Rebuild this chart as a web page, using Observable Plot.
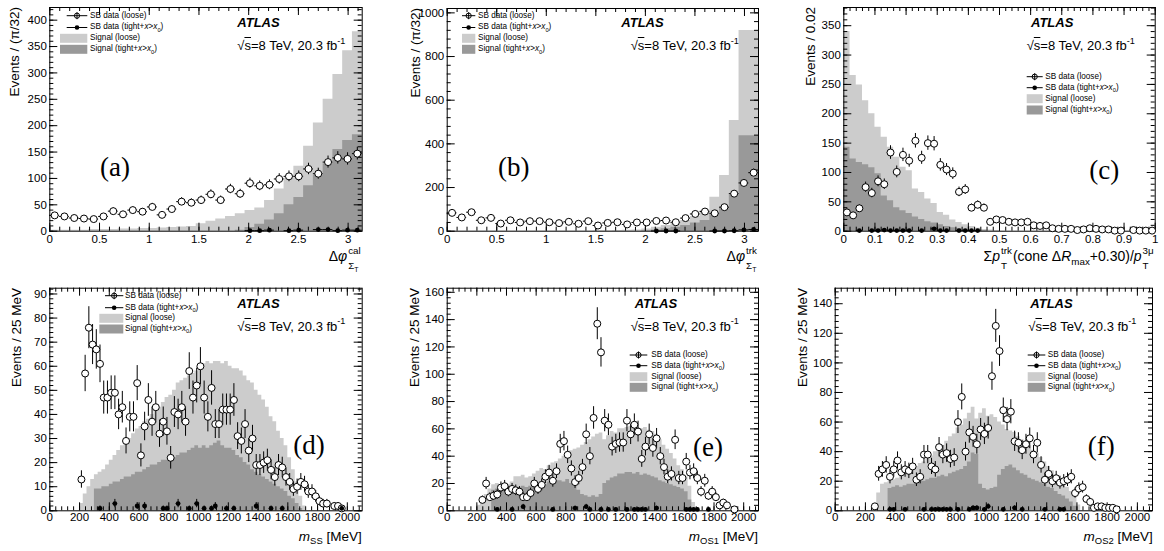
<!DOCTYPE html>
<html><head><meta charset="utf-8">
<script src="https://cdn.jsdelivr.net/npm/d3@7"></script>
<script src="https://cdn.jsdelivr.net/npm/@observablehq/plot@0.6"></script>
<style>
body{margin:0;background:#fff;}
#root{position:relative;width:1164px;height:551px;overflow:hidden;font-family:'Liberation Sans',Arial,sans-serif;color:#000;background:#fff}
.cell{position:absolute}
.t{position:absolute;white-space:nowrap;line-height:1;font-family:'Liberation Sans',Arial,sans-serif}
.stk{position:relative;display:inline-block;height:0.5em;width:0;margin-left:1px}
.stk>span{position:absolute;left:0;font-size:70%;line-height:1;white-space:nowrap}
.stk>.su{bottom:0.5em}
.stk>.sb{top:0.72em}
.sub{font-size:70%;position:relative;top:0.4em;line-height:1}
.sup{font-size:70%;position:relative;top:-0.75em;line-height:1}
.ytitle{transform-origin:0 0;transform:rotate(-90deg) translate(-100%,-50%)}
</style></head><body><div id="root"></div>
<script>
// ---------------- colours ----------------
const LIGHT = "#cccccc", DARK = "#999999";

// ---------------- tick labels ----------------
const phiTicks = [0, 0.5, 1, 1.5, 2, 2.5, 3];
const aYTicks = [0, 50, 100, 150, 200, 250, 300, 350, 400];
const bYTicks = [0, 200, 400, 600, 800, 1000];
const cXTicks = [0, 0.1, 0.2, 0.3, 0.4, 0.5, 0.6, 0.7, 0.8, 0.9, 1];
const cYTicks = [0, 50, 100, 150, 200, 250, 300, 350];
const mXTicks = [0, 200, 400, 600, 800, 1000, 1200, 1400, 1600, 1800, 2000];
const dYTicks = [0, 10, 20, 30, 40, 50, 60, 70, 80, 90];
const eYTicks = [0, 20, 40, 60, 80, 100, 120, 140, 160];
const fYTicks = [0, 20, 40, 60, 80, 100, 120, 140];

// ---------------- (a) dphi cal, 32 bins of pi/32 ----------------
const aLoose = [30,28,25,24,23,28,38,32,40,37, 46,31,42,56,54,59,70,59,80,71, 91,86,88,99,104,104,118,109,131,139, 137,147];
const aTight = [0,0,0,0,0,0,0,0,0,0, 0,0,0,0,0,0,0,0,0,0, 1,1,2,0,1,2,0,3,3,1, 2,2];
const aSigLoose = [2,2,2,2,3,3,3,4,4,5, 5,6,7,8,9,14,19,23,28,33, 39,44,58,80,101,123,161,205,250,297, 342,378];
const aSigTight = [0,0,0,0,0,0,0,0,0,0, 0,0,0,0,0,0,0,0,0,2, 7,13,21,33,50,64,86,106,128,155, 172,183];

// ---------------- (b) dphi trk ----------------
const bLoose = [84,63,87,50,61,35,50,40,46,46, 41,37,43,34,46,26,38,41,31,40, 40,47,49,41,60,79,90,82,110,172, 221,268];
const bTight = [0,0,0,0,0,0,0,0,0,0, 0,0,0,0,0,0,0,0,0,0, 0,1,1,1,0,0,0,1,1,2, 6,8];
const bSigLoose = [1,1,1,1,1,1,1,1,1,1, 1,1,1,1,1,2,2,3,4,6, 10,18,26,37,49,67,95,156,255,507, 919,919];
const bSigTight = [0,0,0,0,0,0,0,0,0,0, 0,0,0,0,0,0,0,0,0,0, 2,6,11,18,26,37,49,80,110,166, 437,437];

// ---------------- (c) track isolation, bins of 0.02 ----------------
const cLoose = [32,27,39,75,65,85,80,134,101,130, 120,154,125,150,149,113,105,98,67,71, 40,45,40,16,20,19,16,15,15,16, 10,9,10,5,4,4,4,2,3,5, 4,3,3,1,1,0,2,1,1,1];
const cTight = [0,0,1,0,1,1,2,1,1,1, 1,0,1,0,4,1,1,0,1,1, 1,1,0,0,0,0,0,0,0,0, 0,0,0,0,0,0,0,0,0,0, 0,0,0,0,0,0,0,0,0,0];
const cSigLoose = [340,265,249,222,200,177,160,143,126,109, 103,72,66,55,47,32,27,19,15,11, 8,5,3,2,1];
const cSigTight = [143,123,117,113,108,98,60,52,40,35, 30,24,20,16,14,11,8,6,4,3, 2,1,1];

// ---------------- (d) m_SS, 25 MeV bins ----------------
const dLooseStart = 200;
const dLoose = [13,57,76,69,67,61,47,47,49,49, 40,43,29,39,39,53,23,35,46,37, 43,32,37,33,22,41,40,43,37,58, 47,52,60,47,39,51,36,36,42,42, 42,46,31,29,36,25,30,19,19,20, 21,17,14,19,18,14,12,9,10,12, 11,8,8,6,4,3,3,0,2,2, 1];
const dTightX = [337.5,437.5,587.5,637.5,762.5,787.5,862.5,937.5,987.5,1037.5,1087.5,1112.5,1187.5,1237.5,1387.5,1487.5,1562.5,1962.5];
const dTightY = [1,3,2,2,1,1,3,1,3,1,1,2,1,1,2,1,1,1];
const dSigLooseStart = 200;
const dSigLoose = [3,7,10,13,15,16,17,19,21,23, 25,27,28,30,32,34,35,37,38,40, 42,43,45,47,48,50,53,54,55,56, 57,58,59,61,62,61,62,62,61,62, 60,59,59,58,56,54,53,50,48,46, 43,39,37,33,30,27,22,17,12,6, 2];
const dSigTightStart = 300;
const dSigTight = [9,9,10,10,11,12,12,13,14,14, 15,16,16,17,18,19,19,20,21,21, 22,22,23,24,24,25,26,27,26,27, 26,27,28,29,27,26,26,25,23,22, 20,19,17,16,15,14,13,12,11,10, 9,8,6,5,3,1];

// ---------------- (e) m_OS1 ----------------
const eLooseStart = 225;
const eLoose = [8,20,10,11,12,17,18,14,16,15, 14,10,10,13,20,16,19,25,28,22, 29,49,51,41,31,21,24,32,56,40, 68,137,116,66,63,47,49,50,50,66, 56,63,58,38,47,56,46,53,40,32, 25,27,52,24,24,36,28,29,24,14, 22,11,14,10,4,6,4,0,1];
const eTightX = [337.5,437.5,512.5,712.5,862.5,937.5,962.5,1037.5,1087.5,1137.5,1212.5,1262.5,1287.5,1312.5,1337.5,1412.5,1612.5,1637.5,1662.5,1687.5,1762.5];
const eTightY = [1,1,3,1,2,3,1,1,1,1,1,1,1,1,1,2,1,1,1,1,1];
const eSigLooseStart = 200;
const eSigLoose = [4,8,12,16,19,20,18,20,19,21, 25,25,26,24,25,27,29,31,30,33, 35,36,38,40,42,44,45,46,48,50, 52,54,56,57,52,55,58,57,60,60, 61,62,62,61,60,61,59,58,56,52, 48,45,42,38,33,30,25,18,6];
const eSigTightStart = 300;
const eSigTight = [15,16,16,15,16,17,16,17,18,17, 18,19,19,20,19,21,21,22,22,21, 23,20,18,15,12,11,10,11,10,12, 20,22,24,25,27,27,28,28,27,28, 26,27,26,25,24,22,21,20,19,18, 17,16,14,8];

// ---------------- (f) m_OS2 ----------------
const fLooseStart = 250;
const fLoose = [3,25,28,31,23,28,34,26,28,27, 30,21,23,38,38,30,28,43,38,39, 35,36,60,77,40,53,50,45,55,52, 56,91,125,108,68,62,67,47,46,41, 45,49,38,46,31,21,25,20,22,19, 20,21,23,12,15,16,8,6,2,3, 3,2,2,2,1];
const fTightX = [362.5,387.5,462.5,587.5,637.5,662.5,687.5,712.5,737.5,762.5,812.5,887.5,912.5,937.5,987.5,1012.5,1112.5,1187.5,1237.5,1387.5,1487.5,1512.5];
const fTightY = [1,1,1,1,1,1,1,1,1,1,1,1,2,2,1,3,1,2,1,1,1,1];
const fSigLooseStart = 275;
const fSigLoose = [12,18,19,20,21,22,24,26,27,28, 30,32,33,35,37,40,42,44,47,50, 52,56,58,62,66,70,62,66,69,64, 65,63,60,58,55,54,53,50,48,46, 44,41,39,36,33,30,27,24,21,19, 16,13,10,4];
const fSigTightStart = 350;
const fSigTight = [15,16,17,16,17,18,18,19,20,20, 21,22,22,23,24,23,25,26,27,28, 30,33,39,38,18,15,14,15,16,24, 28,30,31,29,27,25,24,22,21,20, 19,18,16,15,13,11,10,8,6,3];

// ---------------- helpers ----------------
const W = 388;
const binsFrom = (start, w, vals) => vals.map((v, i) => ({lo: start + i*w, hi: start + (i+1)*w, c: start + (i+0.5)*w, v}));
const pairs = (xs, ys, w) => xs.map((c, i) => ({lo: c - w/2, hi: c + w/2, c, v: ys[i]}));
const steps = (start, w, vals) => vals.map((v, i) => ({x: start + i*w, y: v})).concat([{x: start + vals.length*w, y: vals[vals.length-1]}]);
const err = d => Math.sqrt(d.v);

const phiW = Math.PI / 32;
const panels = [
  {key:"a", left:0, top:0, h:275, mL:49.3, mR:26.3, mT:7, mB:44.3, xDom:[0,Math.PI], yDom:[0,424], xMaj:phiTicks, xMinStep:0.1, yMaj:aYTicks, yMinStep:10, xPad:4,
   loose: binsFrom(0, phiW, aLoose), tight: binsFrom(0, phiW, aTight), sigL: steps(0, phiW, aSigLoose), sigT: steps(0, phiW, aSigTight)},
  {key:"b", left:388, top:0, h:275, mL:58.7, mR:18, mT:8, mB:44.3, xDom:[0,Math.PI], yDom:[0,1020], xMaj:phiTicks, xMinStep:0.1, yMaj:bYTicks, yMinStep:40, xPad:4,
   loose: binsFrom(0, phiW, bLoose), tight: binsFrom(0, phiW, bTight), sigL: steps(0, phiW, bSigLoose), sigT: steps(0, phiW, bSigTight)},
  {key:"c", left:776, top:0, h:275, mL:67.3, mR:9.3, mT:7, mB:44.3, xDom:[0,1], yDom:[0,381], xMaj:cXTicks, xMinStep:0.02, yMaj:cYTicks, yMinStep:10, xPad:4,
   loose: binsFrom(0, 0.02, cLoose), tight: binsFrom(0, 0.02, cTight), sigL: steps(0, 0.02, cSigLoose), sigT: steps(0, 0.02, cSigTight)},
  {key:"d", left:0, top:275, h:276, mL:49.3, mR:26.3, mT:12.7, mB:40.7, xDom:[0,2100], yDom:[0,92.4], xMaj:mXTicks, xMinStep:40, yMaj:dYTicks, yMinStep:2, xPad:2,
   loose: binsFrom(dLooseStart, 25, dLoose), tight: pairs(dTightX, dTightY, 25), sigL: steps(dSigLooseStart, 25, dSigLoose), sigT: steps(dSigTightStart, 25, dSigTight)},
  {key:"e", left:388, top:275, h:276, mL:58.7, mR:18, mT:12.7, mB:40.7, xDom:[0,2100], yDom:[0,163], xMaj:mXTicks, xMinStep:40, yMaj:eYTicks, yMinStep:4, xPad:2,
   loose: binsFrom(eLooseStart, 25, eLoose), tight: pairs(eTightX, eTightY, 25), sigL: steps(eSigLooseStart, 25, eSigLoose), sigT: steps(eSigTightStart, 25, eSigTight)},
  {key:"f", left:776, top:275, h:276, mL:58.7, mR:12, mT:12.7, mB:40.7, xDom:[0,2100], yDom:[0,150.5], xMaj:mXTicks, xMinStep:40, yMaj:fYTicks, yMinStep:4, xPad:2,
   loose: binsFrom(fLooseStart, 25, fLoose), tight: pairs(fTightX, fTightY, 25), sigL: steps(fSigLooseStart, 25, fSigLoose), sigT: steps(fSigTightStart, 25, fSigTight)}
];

const root = document.getElementById("root");

for (const p of panels) {
  const FH = p.h - p.mT - p.mB, FW = W - p.mL - p.mR;
  const xMin = d3.range(0, p.xDom[1] + 1e-9, p.xMinStep);
  const yMin = d3.range(0, p.yDom[1] + 1e-9, p.yMinStep);
  const loose = p.loose.filter(d => d.v > 0);
  const tight = p.tight.filter(d => d.v > 0);
  const svg = Plot.plot({
    width: W, height: p.h,
    marginLeft: p.mL, marginRight: p.mR, marginTop: p.mT, marginBottom: p.mB,
    x: {type: "linear", domain: p.xDom},
    y: {type: "linear", domain: p.yDom},
    style: {fontFamily: "'Liberation Sans', Arial, sans-serif", fontSize: "11.5px", background: "transparent", color: "#000", overflow: "visible"},
    marks: [
      Plot.areaY(p.sigL, {x: "x", y: "y", curve: "step-after", fill: LIGHT}),
      Plot.areaY(p.sigT, {x: "x", y: "y", curve: "step-after", fill: DARK}),
      Plot.ruleX(xMin, {x: d => d, insetTop: FH - 4, stroke: "#000"}),
      Plot.ruleX(xMin, {x: d => d, insetBottom: FH - 4, stroke: "#000"}),
      Plot.ruleX(p.xMaj, {x: d => d, insetTop: FH - 8, stroke: "#000"}),
      Plot.ruleX(p.xMaj, {x: d => d, insetBottom: FH - 8, stroke: "#000"}),
      Plot.ruleY(yMin, {y: d => d, insetRight: FW - 4, stroke: "#000"}),
      Plot.ruleY(yMin, {y: d => d, insetLeft: FW - 4, stroke: "#000"}),
      Plot.ruleY(p.yMaj, {y: d => d, insetRight: FW - 8, stroke: "#000"}),
      Plot.ruleY(p.yMaj, {y: d => d, insetLeft: FW - 8, stroke: "#000"}),
      Plot.frame({stroke: "#000", strokeWidth: 1}),
      Plot.axisX({ticks: p.xMaj, tickSize: 0, tickPadding: p.xPad, tickFormat: d => String(d), label: null, fontSize: 11.5}),
      Plot.axisY({ticks: p.yMaj, tickSize: 0, tickPadding: 3, tickFormat: d => String(d), label: null, fontSize: 11.5}),
      Plot.ruleY(loose, {x1: "lo", x2: "hi", y: "v", stroke: "#000"}),
      Plot.ruleX(loose, {x: "c", y1: d => d.v - err(d), y2: d => d.v + err(d), stroke: "#000"}),
      Plot.dot(loose, {x: "c", y: "v", r: 3.5, fill: "#fff", stroke: "#000", strokeWidth: 1}),
      Plot.ruleY(tight, {x1: "lo", x2: "hi", y: "v", stroke: "#000"}),
      Plot.ruleX(tight, {x: "c", y1: d => d.v - err(d), y2: d => d.v + err(d), stroke: "#000"}),
      Plot.dot(tight, {x: "c", y: "v", r: 2.4, fill: "#000", stroke: "none"})
    ]
  });
  const cell = document.createElement("div");
  cell.className = "cell";
  cell.style.left = p.left + "px";
  cell.style.top = p.top + "px";
  cell.appendChild(svg);
  root.appendChild(cell);
}

// ---------------- legend markers ----------------
const legends = [
  {line:[66.7,87.3], box:[60,87.3], tx:90, rows:[15.7,27.5,38.3,49.3]},
  {line:[462,475.3], box:[462,475.3], tx:478, rows:[15.7,27.5,38.3,49.3]},
  {line:[1026.7,1042.7], box:[1026.7,1042.7], tx:1045.3, rows:[76.7,87.7,98.7,110]},
  {line:[105,123.3], box:[99.3,123.3], tx:125, rows:[295.7,307.7,318.3,329]},
  {line:[629.7,647.3], box:[629.7,647.3], tx:651.3, rows:[355,365.7,376.7,387.3]},
  {line:[1027.7,1045.3], box:[1027.7,1045.3], tx:1047.7, rows:[355,365.7,376.7,387.3]}
];
const legendLabels = [
  "SB data (loose)",
  "SB data (tight+<i>x</i>&gt;<i>x</i><span class='sub'>0</span>)",
  "Signal (loose)",
  "Signal (tight+<i>x</i>&gt;<i>x</i><span class='sub'>0</span>)"
];
const ov = d3.create("svg").attr("width", 1164).attr("height", 551)
  .style("position", "absolute").style("left", 0).style("top", 0).style("pointer-events", "none");
for (const L of legends) {
  const [y0, y1, y2, y3] = L.rows;
  const cx = (L.line[0] + L.line[1]) / 2;
  ov.append("rect").attr("x", L.box[0]).attr("y", y2 - 4.5).attr("width", L.box[1] - L.box[0]).attr("height", 9).attr("fill", LIGHT);
  ov.append("rect").attr("x", L.box[0]).attr("y", y3 - 4.5).attr("width", L.box[1] - L.box[0]).attr("height", 9).attr("fill", DARK);
  ov.append("circle").attr("cx", cx).attr("cy", y0).attr("r", 2.6).attr("fill", "#fff").attr("stroke", "#000");
  ov.append("line").attr("x1", L.line[0]).attr("x2", L.line[1]).attr("y1", y0).attr("y2", y0).attr("stroke", "#000");
  ov.append("line").attr("x1", cx).attr("x2", cx).attr("y1", y0 - 3.5).attr("y2", y0 + 3.5).attr("stroke", "#000");
  ov.append("line").attr("x1", L.line[0]).attr("x2", L.line[1]).attr("y1", y1).attr("y2", y1).attr("stroke", "#000");
  ov.append("circle").attr("cx", cx).attr("cy", y1).attr("r", 2.3).attr("fill", "#000");
}
root.appendChild(ov.node());

// ---------------- texts ----------------
function addText(html, o) {
  const d = document.createElement("div");
  d.className = "t";
  d.innerHTML = html;
  const size = o.size;
  d.style.fontSize = size + "px";
  if (o.family) d.style.fontFamily = o.family;
  if (o.weight) d.style.fontWeight = o.weight;
  if (o.italic) d.style.fontStyle = "italic";
  const asc = o.family && o.family.includes("Serif") ? 0.835 : 0.85;
  d.style.top = (o.baseline - asc * size) + "px";
  if (o.right !== undefined) d.style.right = (1164 - o.right) + "px";
  else d.style.left = o.x + "px";
  root.appendChild(d);
  return d;
}
function addYTitle(text, cx, top) {
  const d = document.createElement("div");
  d.className = "t ytitle";
  d.textContent = text;
  d.style.fontSize = "13.5px";
  d.style.left = cx + "px";
  d.style.top = top + "px";
  root.appendChild(d);
}
const stk = (sup, sub) => `<span class="stk"><span class="su">${sup}</span><span class="sb">${sub}</span></span>`;
const sub = s => `<span class="sub">${s}</span>`;

for (const L of legends) {
  L.rows.forEach((y, i) => addText(legendLabels[i], {x: L.tx, baseline: y + 2.9, size: 8.2}));
}

const atlas = [[237.3,27.3],[621.3,27.3],[1031,27.3],[237.3,308.3],[634.7,308.3],[1030.3,308.3]];
atlas.forEach(([x, b]) => addText("ATLAS", {x, baseline: b, size: 13, weight: "bold", italic: true}));
const energy = [[237.3,50.5],[630.7,50.5],[1026.7,50.5],[237.3,331],[630.7,331],[1028.3,331]];
energy.forEach(([x, b]) => addText(`√<span style="text-decoration:overline">s</span>=8 TeV, 20.3 fb<span class="sup">-1</span>`, {x, baseline: b, size: 13}));

const letters = [["(a)",100,177],["(b)",498,177],["(c)",1089.3,180],["(d)",293.3,455],["(e)",693,456.7],["(f)",1087.7,456]];
letters.forEach(([s, x, b]) => addText(s, {x, baseline: b, size: 27, family: "'Liberation Serif','Times New Roman',serif"}));

addYTitle("Events / (π/32)", 15, 7);
addYTitle("Events / (π/32)", 415.5, 8);
addYTitle("Events / 0.02", 811, 7);
addYTitle("Events / 25 MeV", 16.7, 287.7);
addYTitle("Events / 25 MeV", 414.7, 287.7);
addYTitle("Events / 25 MeV", 802.7, 287.7);

addText(`Δ<i>φ</i>${stk("cal", "Σ" + sub("T"))}`, {right: 361.7, baseline: 261, size: 14});
addText(`Δ<i>φ</i>${stk("trk", "Σ" + sub("T"))}`, {right: 758, baseline: 261, size: 14});
addText(`Σ<i>p</i>${stk("trk", "T")}(cone Δ<i>R</i>${sub("max")}+0.30)/<i>p</i>${stk("3μ", "T")}`, {right: 1154.7, baseline: 261, size: 14});
addText(`<i>m</i>${sub("SS")} [MeV]`, {right: 361.7, baseline: 541, size: 13.5});
addText(`<i>m</i>${sub("OS1")} [MeV]`, {right: 758, baseline: 541, size: 13.5});
addText(`<i>m</i>${sub("OS2")} [MeV]`, {right: 1152.7, baseline: 541, size: 13.5});

document.querySelectorAll(".stk").forEach(s => {
  let w = 0;
  s.querySelectorAll(":scope > span").forEach(c => { w = Math.max(w, c.getBoundingClientRect().width); });
  s.style.width = (w + 1) + "px";
});
</script></body></html>
